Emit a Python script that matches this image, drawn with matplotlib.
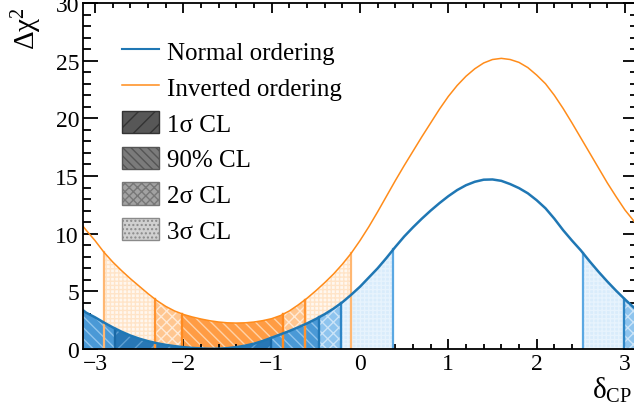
import matplotlib
matplotlib.use('Agg')
import matplotlib.pyplot as plt
import numpy as np
from matplotlib.lines import Line2D
from matplotlib.patches import Patch
from matplotlib.ticker import MultipleLocator

plt.rcParams['font.family'] = ['Liberation Serif', 'DejaVu Serif']
plt.rcParams['mathtext.fontset'] = 'custom'
plt.rcParams['mathtext.rm'] = 'Liberation Serif'
plt.rcParams['mathtext.it'] = 'Liberation Serif:italic'
plt.rcParams['hatch.linewidth'] = 1.0

# delta_CP scan
delta_no = [-np.pi, -3.1, -3.0, -2.9, -2.8, -2.7, -2.6, -2.5, -2.4, -2.3, -2.2, -2.1, -2.0,
            -1.9, -1.8, -1.7, -1.6, -1.5, -1.4, -1.3, -1.2, -1.1, -1.0, -0.9, -0.8, -0.7,
            -0.6, -0.5, -0.4, -0.3, -0.2, -0.1, 0.0, 0.1, 0.2, 0.3, 0.4, 0.5, 0.6, 0.7,
            0.8, 0.9, 1.0, 1.1, 1.2, 1.3, 1.4, 1.5, 1.6, 1.7, 1.8, 1.9, 2.0, 2.1, 2.2,
            2.3, 2.4, 2.5, 2.6, 2.7, 2.8, 2.9, 3.0, 3.1, np.pi]
chi2_no = [3.4, 3.15, 2.75, 2.3, 1.88, 1.5, 1.17, 0.9, 0.68, 0.5, 0.36, 0.25, 0.16,
           0.09, 0.05, 0.02, 0.03, 0.07, 0.16, 0.29, 0.46, 0.7, 0.98, 1.27, 1.56, 1.88,
           2.22, 2.6, 3.02, 3.5, 4.05, 4.7, 5.4, 6.2, 7.0, 7.9, 8.85, 9.75, 10.55, 11.3,
           12.0, 12.65, 13.25, 13.78, 14.2, 14.5, 14.68, 14.7, 14.58, 14.3, 13.95, 13.5, 12.9, 12.2, 11.3,
           10.3, 9.4, 8.55, 7.6, 6.7, 5.85, 5.05, 4.3, 3.6, 3.4]

delta_io = list(delta_no)
chi2_io = [10.7, 10.3, 9.4, 8.4, 7.55, 6.8, 6.1, 5.45, 4.8, 4.2, 3.7, 3.3, 3.0,
           2.78, 2.6, 2.45, 2.34, 2.27, 2.25, 2.27, 2.34, 2.46, 2.63, 2.9, 3.3, 3.82,
           4.4, 5.05, 5.75, 6.5, 7.35, 8.3, 9.4, 10.6, 11.9, 13.25, 14.6, 15.9, 17.15, 18.4,
           19.6, 20.8, 21.9, 22.85, 23.65, 24.3, 24.8, 25.1, 25.2, 25.1, 24.85, 24.4, 23.75, 23.0, 22.0,
           20.85, 19.6, 18.3, 17.0, 15.7, 14.4, 13.2, 12.05, 11.1, 10.7]

# allowed intervals of delta_CP and their confidence level
no_edges = [-np.pi, -2.77, -1.01, -0.46, -0.215, 0.377, 2.52, 2.99, np.pi]
no_levels = ['90%', '1s', '90%', '2s', '3s', None, '3s', '2s']
io_edges = [-2.90, -2.32, -2.015, -0.872, -0.623, -0.102]
io_levels = ['3s', '2s', '90%', '2s', '3s']

cl_names = ['1s', '90%', '2s', '3s']
cl_labels = ['1σ CL', '90% CL', '2σ CL', '3σ CL']

# face colour, hatch colour, hatch, edge line colour
blue_style = {
    '1s': ('#2877b6', '#5e9fd2', '//', '#1b69a6'),
    '90%': ('#4a99d6', '#90c4ec', '\\\\\\', '#2279b8'),
    '2s': ('#8ec4ee', '#cbe4f8', 'xxx', '#2f86c6'),
    '3s': ('#d9ecfb', '#e7f3fd', '++++', '#5ba8e3'),
}
orange_style = {
    '90%': ('#ff9c44', '#ffd2a6', '\\\\\\', '#ff8a1f'),
    '2s': ('#ffc690', '#ffead6', 'xxx', '#ff9330'),
    '3s': ('#fff7ef', '#ffe4c8', '++++', '#ffb772'),
}
legend_style = {
    '1s': ('#575757', '#333333', '//'),
    '90%': ('#7b7b7b', '#555555', '\\\\\\\\'),
    '2s': ('#a2a2a2', '#777777', 'xxxx'),
    '3s': ('#d0d0d0', '#8a8a8a', '....'),
}


def draw_regions(ax, xs, ys, edges, levels, style, z):
    xs = np.asarray(xs)
    ys = np.asarray(ys)
    for lev in ['3s', '2s', '90%', '1s']:
        for i, l in enumerate(levels):
            if l != lev:
                continue
            a, b = edges[i], edges[i + 1]
            inside = (xs > a) & (xs < b)
            x = np.concatenate([[a], xs[inside], [b]])
            y = np.interp(x, xs, ys)
            face, hcol, hatch, lcol = style[lev]
            ax.fill_between(x, 0, y, facecolor=face, edgecolor=hcol, hatch=hatch,
                            linewidth=0, zorder=z)
            for e in (a, b):
                if abs(abs(e) - np.pi) > 1e-6:
                    ax.plot([e, e], [0, np.interp(e, xs, ys)], color=lcol, lw=1.6,
                            zorder=z + 2)


fig = plt.figure(figsize=(6.34, 4.14), dpi=100)
ax = fig.add_axes([82.5 / 634, 1 - 350 / 414, 555 / 634, 346 / 414])

draw_regions(ax, delta_io, chi2_io, io_edges, io_levels, orange_style, 1)
draw_regions(ax, delta_no, chi2_no, no_edges, no_levels, blue_style, 2)

ax.plot(delta_no, chi2_no, color='#1f77b4', lw=1.8, zorder=6)
ax.plot(delta_io, chi2_io, color='#ff8c1a', lw=1.1, zorder=6)

ax.set_xlim(-np.pi, np.pi)
ax.set_ylim(0, 30)
ax.xaxis.set_major_locator(MultipleLocator(1))
ax.xaxis.set_minor_locator(MultipleLocator(0.2))
ax.yaxis.set_major_locator(MultipleLocator(5))
ax.yaxis.set_minor_locator(MultipleLocator(1))
ax.tick_params(which='both', direction='in', top=True, right=True, width=1.3,
               labelsize=17)
ax.tick_params(axis='x', which='major', length=7.2, pad=3)
ax.tick_params(axis='x', which='minor', length=3.4)
ax.tick_params(axis='y', which='major', length=10.5, pad=2.5)
ax.tick_params(axis='y', which='minor', length=5.5)
for s in ax.spines.values():
    s.set_linewidth(1.3)
    s.set_zorder(10)

ax.set_xlabel(r'$\mathrm{δ_{CP}}$', fontsize=21, loc='right')
ax.xaxis.set_label_coords(0.99, -0.075)
ax.set_ylabel(r'$\mathrm{Δχ^{2}}$', fontsize=21, loc='top')
ax.yaxis.set_label_coords(-0.07, 0.99)

handles = [Line2D([], [], color='#1f77b4', lw=1.5),
           Line2D([], [], color='#ff8c1a', lw=1.1)]
for name in cl_names:
    face, hcol, hatch = legend_style[name]
    handles.append(Patch(facecolor=face, edgecolor=hcol, hatch=hatch, lw=1.0))
labels = ['Normal ordering', 'Inverted ordering'] + cl_labels
ax.legend(handles, labels, loc='upper left', bbox_to_anchor=(0.071, 0.895),
          frameon=False, fontsize=18, handlelength=1.5, handleheight=1.0,
          handletextpad=0.3, labelspacing=0.44, borderpad=0, borderaxespad=0)

fig.savefig('out.png', dpi=100)
